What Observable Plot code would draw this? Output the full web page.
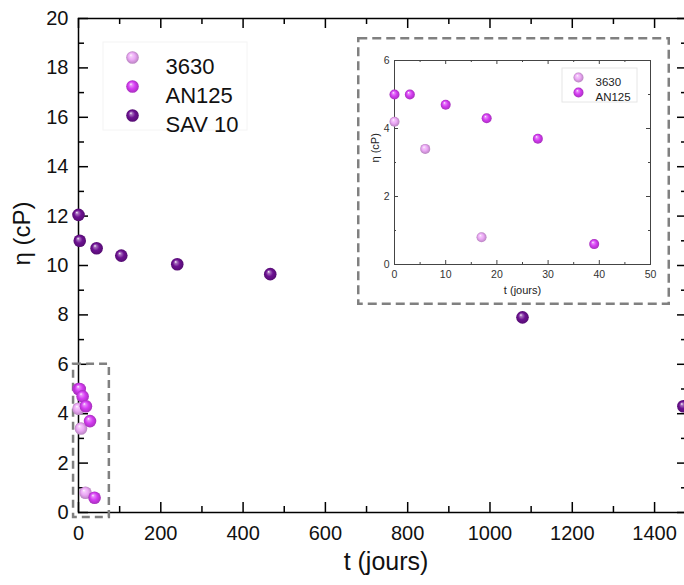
<!DOCTYPE html>
<html><head><meta charset="utf-8">
<script src="https://cdn.jsdelivr.net/npm/d3@7"></script>
<script src="https://cdn.jsdelivr.net/npm/@observablehq/plot@0.6"></script>
<style>
html,body{margin:0;padding:0;background:#fff;overflow:hidden;}
#chart{position:relative;width:684px;height:585px;overflow:hidden;font-family:"Liberation Sans",Arial,sans-serif;}
#chart svg{overflow:hidden;}
#inset{position:absolute;left:357px;top:37px;width:313px;height:268px;}
</style></head><body>
<div id="chart"><div id="main"></div><div id="inset"></div></div>
<script>
// ---- data ----
const seriesNames = ["3630", "AN125", "SAV 10"];
const seriesColors = ["#eca8f6", "#d63cf3", "#6d1192"];
const t3630 = [0, 6, 17];
const eta3630 = [4.2, 3.4, 0.8];
const tAN125 = [0, 3, 10, 18, 28, 39];
const etaAN125 = [5.0, 5.0, 4.7, 4.3, 3.7, 0.6];
const tSAV10 = [0, 3, 44, 104, 240, 466, 1079, 1470];
const etaSAV10 = [12.05, 11.0, 10.7, 10.4, 10.05, 9.65, 7.9, 4.3];

const mainXMajor = [0, 200, 400, 600, 800, 1000, 1200, 1400];
const mainXMinor = [100, 300, 500, 700, 900, 1100, 1300];
const mainYMajor = [0, 2, 4, 6, 8, 10, 12, 14, 16, 18, 20];
const mainYMinor = [1, 3, 5, 7, 9, 11, 13, 15, 17, 19];
const insetXMajor = [0, 10, 20, 30, 40, 50];
const insetXMinor = [5, 15, 25, 35, 45];
const insetYMajor = [0, 2, 4, 6];
const insetYMinor = [1, 3, 5];
const zoomBox = [{x1: -12, x2: 75, y1: -0.2, y2: 6}];
const xLabel = "t (jours)";
const yLabel = "η (cP)";

const mainSeries = [
  {name: seriesNames[0], i: 0, pts: t3630.map((t, k) => ({t, eta: eta3630[k]}))},
  {name: seriesNames[1], i: 1, pts: tAN125.map((t, k) => ({t, eta: etaAN125[k]}))},
  {name: seriesNames[2], i: 2, pts: tSAV10.map((t, k) => ({t, eta: etaSAV10[k]}))}
];
const insetSeries = mainSeries.slice(0, 2);
const fmt = d => String(d);

function addDefs(svg, prefix) {
  const defs = d3.select(svg).insert("defs", ":first-child");
  seriesColors.forEach((c, i) => {
    const g = defs.append("radialGradient").attr("id", prefix + i)
      .attr("cx", "50%").attr("cy", "50%").attr("r", "50%").attr("fx", "36%").attr("fy", "30%");
    g.append("stop").attr("offset", "0%").attr("stop-color", "#ffffff");
    g.append("stop").attr("offset", "20%").attr("stop-color", d3.interpolateRgb(c, "#ffffff")(0.4));
    g.append("stop").attr("offset", "55%").attr("stop-color", c);
    g.append("stop").attr("offset", "100%").attr("stop-color", d3.color(c).darker(0.7).formatHex());
  });
}

function tickRules(xMaj, xMin, yMaj, yMin, fw, fh, lMaj, lMin, stroke, sw) {
  const o = {stroke, strokeWidth: sw};
  return [
    Plot.ruleX(xMaj, {x: d => d, insetTop: fh - lMaj, ...o}),
    Plot.ruleX(xMin, {x: d => d, insetTop: fh - lMin, ...o}),
    Plot.ruleX(xMaj, {x: d => d, insetBottom: fh - lMaj, ...o}),
    Plot.ruleX(xMin, {x: d => d, insetBottom: fh - lMin, ...o}),
    Plot.ruleY(yMaj, {y: d => d, insetRight: fw - lMaj, ...o}),
    Plot.ruleY(yMin, {y: d => d, insetRight: fw - lMin, ...o}),
    Plot.ruleY(yMaj, {y: d => d, insetLeft: fw - lMaj, ...o}),
    Plot.ruleY(yMin, {y: d => d, insetLeft: fw - lMin, ...o})
  ];
}

// ---- main chart ----
const W = 684, H = 585, mL = 78, mR = -3, mT = 18, mB = 73;
const fw = W - mL - mR, fh = H - mT - mB;
const main = Plot.plot({
  width: W, height: H,
  marginLeft: mL, marginRight: mR, marginTop: mT, marginBottom: mB,
  x: {domain: [0, 1480]},
  y: {domain: [0, 20]},
  style: {fontFamily: "'Liberation Sans', Arial, sans-serif", color: "#000", background: "#fff"},
  marks: [
    ...tickRules(mainXMajor, mainXMinor, mainYMajor, mainYMinor, fw, fh, 10, 6, "#000", 1.5),
    Plot.frame({stroke: "#000", strokeWidth: 1.5}),
    Plot.axisX({ticks: mainXMajor, tickFormat: fmt, tickSize: 0, tickPadding: 13, fontSize: 20, label: null, fill: "#111"}),
    Plot.axisY({ticks: mainYMajor, tickFormat: fmt, tickSize: 0, tickPadding: 10, fontSize: 20, label: null, fill: "#111"}),
    Plot.rect(zoomBox, {x1: "x1", x2: "x2", y1: "y1", y2: "y2", fill: "none", stroke: "#808080", strokeWidth: 2.5, strokeDasharray: "8,5"}),
    ...mainSeries.map(s => Plot.dot(s.pts, {x: "t", y: "eta", r: 6.3, fill: `url(#gm${s.i})`, stroke: "none"})),
    ...mainSeries.map((s, k) => Plot.dot([s.name], {frameAnchor: "top-left", dx: 54, dy: 39 + 29 * k, r: 6.3, fill: `url(#gm${s.i})`, stroke: "none"})),
    ...mainSeries.map((s, k) => Plot.text([s.name], {text: d => d, frameAnchor: "top-left", dx: 87, dy: 40 + 29 * k, textAnchor: "start", fontSize: 22, fill: "#111"})),
    Plot.text([xLabel], {text: d => d, frameAnchor: "bottom", dx: 3, dy: 57, fontSize: 25, fill: "#111"}),
    Plot.text([yLabel], {text: d => d, frameAnchor: "left", dx: -56, rotate: -90, fontSize: 24, fill: "#111"})
  ]
});
addDefs(main, "gm");
d3.select(main).insert("rect", "defs + *")
  .attr("x", 103).attr("y", 42).attr("width", 144).attr("height", 88)
  .attr("fill", "none").attr("stroke", "#f4f4f4").attr("stroke-width", 1);
document.getElementById("main").appendChild(main);

// ---- inset ----
const iW = 313, iH = 268, iL = 37, iR = 20, iT = 23, iB = 41;
const ifw = iW - iL - iR, ifh = iH - iT - iB;
const inset = Plot.plot({
  width: iW, height: iH,
  marginLeft: iL, marginRight: iR, marginTop: iT, marginBottom: iB,
  x: {domain: [0, 50]},
  y: {domain: [0, 6]},
  style: {fontFamily: "'Liberation Sans', Arial, sans-serif", color: "#333", background: "transparent"},
  marks: [
    ...tickRules(insetXMajor, insetXMinor, insetYMajor, insetYMinor, ifw, ifh, 4, 2, "#444", 1),
    Plot.frame({stroke: "#444", strokeWidth: 1}),
    Plot.axisX({ticks: insetXMajor, tickFormat: fmt, tickSize: 0, tickPadding: 6, fontSize: 10.5, label: null}),
    Plot.axisY({ticks: insetYMajor, tickFormat: fmt, tickSize: 0, tickPadding: 5, fontSize: 10.5, label: null}),
    ...insetSeries.map(s => Plot.dot(s.pts, {x: "t", y: "eta", r: 5, fill: `url(#gi${s.i})`, stroke: "none"})),
    ...insetSeries.map((s, k) => Plot.dot([s.name], {frameAnchor: "top-left", dx: 184, dy: 17 + 15 * k, r: 5, fill: `url(#gi${s.i})`, stroke: "none"})),
    ...insetSeries.map((s, k) => Plot.text([s.name], {text: d => d, frameAnchor: "top-left", dx: 201, dy: 17 + 15 * k, textAnchor: "start", fontSize: 11.5, fill: "#222"})),
    Plot.text([xLabel], {text: d => d, frameAnchor: "bottom", dy: 29, fontSize: 11, fill: "#222"}),
    Plot.text([yLabel], {text: d => d, frameAnchor: "left", dx: -19, rotate: -90, fontSize: 11, fill: "#222"})
  ]
});
addDefs(inset, "gi");
const isel = d3.select(inset);
isel.append("rect").attr("x", 562 - 357).attr("y", 68 - 37).attr("width", 75).attr("height", 34)
  .attr("fill", "none").attr("stroke", "#e6e6e6").attr("stroke-width", 1);
isel.append("rect").attr("x", 1.25).attr("y", 1.25).attr("width", iW - 2.5).attr("height", iH - 2.5)
  .attr("fill", "none").attr("stroke", "#808080").attr("stroke-width", 2.5).attr("stroke-dasharray", "9,5");
document.getElementById("inset").appendChild(inset);
</script>
</body></html>
